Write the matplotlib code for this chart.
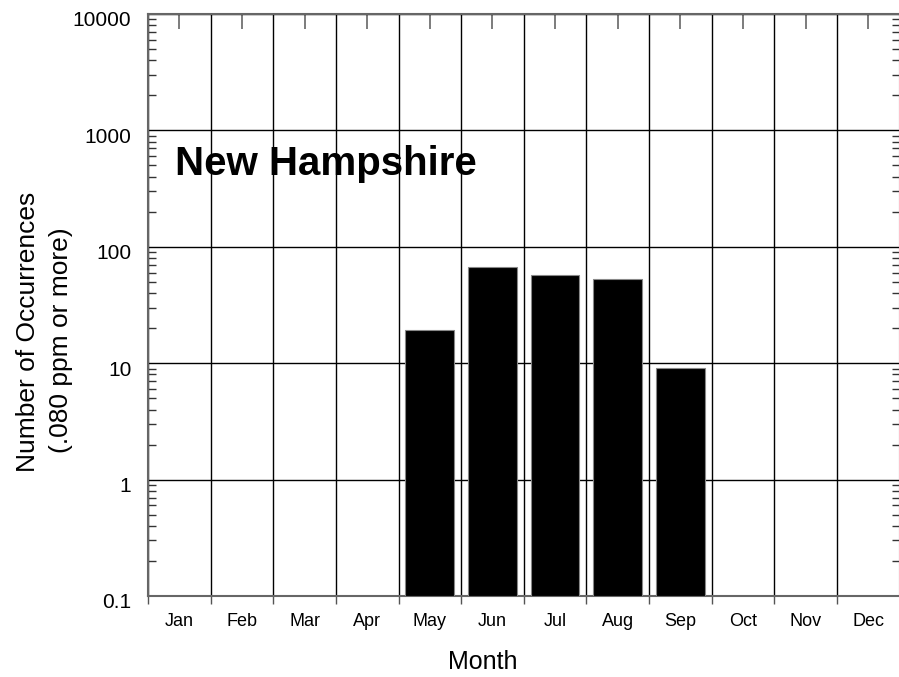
import matplotlib
matplotlib.use("Agg")
import matplotlib.pyplot as plt
from matplotlib.ticker import FixedLocator, NullFormatter, LogLocator
from matplotlib.transforms import ScaledTranslation
import numpy as np

plt.rcParams['font.family'] = ['Liberation Sans', 'DejaVu Sans']

months = ["Jan", "Feb", "Mar", "Apr", "May", "Jun", "Jul", "Aug", "Sep", "Oct", "Nov", "Dec"]
occurrences = [0, 0, 0, 0, 19, 67, 57, 53, 9, 0, 0, 0]
y_ticks = [0.1, 1, 10, 100, 1000, 10000]
y_tick_labels = ["0.1", "1", "10", "100", "1000", "10000"]

W, H = 899, 677
fig = plt.figure(figsize=(W / 100, H / 100), dpi=100)
ax = fig.add_axes([148 / W, 1 - 596 / H, (899.5 - 148) / W, (596 - 14) / H])

x = np.arange(len(months))
vals = [v if v > 0 else np.nan for v in occurrences]
ax.bar(x, vals, width=0.78, color='black', edgecolor='#888888', linewidth=0.8,
       bottom=0.1, zorder=3)
ax.set_yscale('log')
ax.set_ylim(0.1, 10000)
ax.set_xlim(-0.5, 11.5)

# y axis
ax.yaxis.set_major_locator(FixedLocator(y_ticks))
ax.set_yticklabels(y_tick_labels, fontsize=15)
ax.yaxis.set_minor_locator(LogLocator(base=10, subs=np.arange(2, 10)))
ax.yaxis.set_minor_formatter(NullFormatter())
ax.tick_params(axis='y', which='major', length=0, pad=12)
ax.tick_params(axis='y', which='minor', direction='in', length=6, width=1,
               left=True, right=True, color='#333333')
offset = ScaledTranslation(0, -5 / 100, fig.dpi_scale_trans)
for lab in ax.get_yticklabels():
    lab.set_transform(lab.get_transform() + offset)

# x axis: boundaries (major) and centers (minor)
ax.xaxis.set_major_locator(FixedLocator(np.arange(-0.5, 12, 1)))
ax.xaxis.set_major_formatter(NullFormatter())
ax.xaxis.set_minor_locator(FixedLocator(x))
ax.set_xticks(x, months, minor=True, fontsize=13)
ax.tick_params(axis='x', which='major', direction='out', length=6, width=1,
               bottom=True, top=False, color='#555555')
ax.tick_params(axis='x', which='minor', bottom=False, top=True, direction='in',
               length=11, width=1.2, labelbottom=True, pad=12, color='#666666')

ax.grid(True, which='major', axis='both', color='black', linewidth=1, zorder=1)
ax.set_axisbelow(True)

for s in ax.spines.values():
    s.set_color('#666666')
    s.set_linewidth(1.5)

fig.text(175 / W, 1 - 175 / H, "New Hampshire", fontsize=29, fontweight='bold',
         ha='left', va='baseline')
fig.text(483 / W, 1 - 662 / H, "Month", fontsize=18, ha='center', va='center')
fig.text(28 / W, 1 - 332 / H, "Number of Occurrences", fontsize=19, rotation=90,
         ha='center', va='center')
fig.text(61 / W, 1 - 340 / H, "(.080 ppm or more)", fontsize=19, rotation=90,
         ha='center', va='center')

fig.savefig("out.png", dpi=100)
